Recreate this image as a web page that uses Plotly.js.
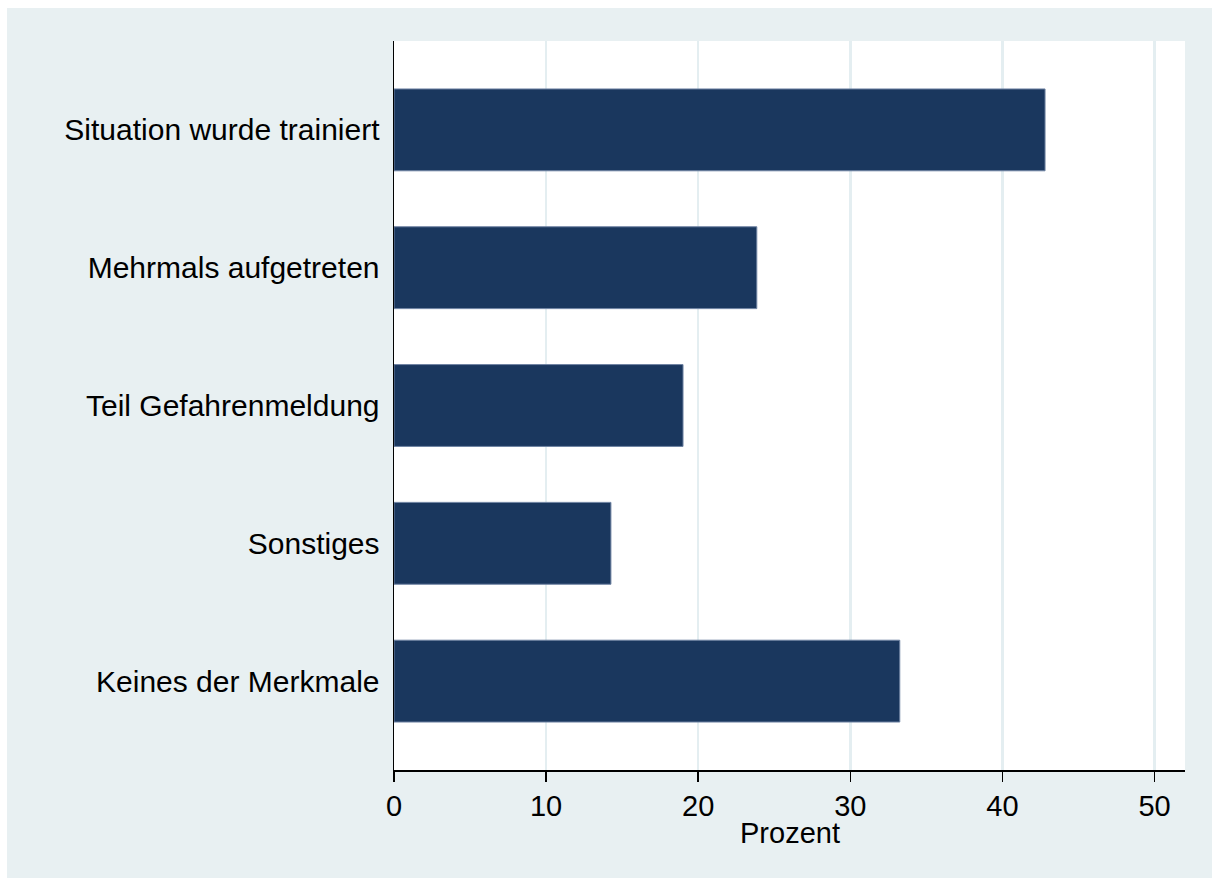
<!DOCTYPE html>
<html>
<head>
<meta charset="utf-8">
<script src="https://cdn.plot.ly/plotly-3.0.1.min.js"></script>
<style>
html,body{margin:0;padding:0;background:#ffffff;}
#chart{position:absolute;left:7px;top:8px;width:1205px;height:870px;}
</style>
</head>
<body>
<div id="chart"></div>
<script>
var categories = ["Situation wurde trainiert", "Mehrmals aufgetreten", "Teil Gefahrenmeldung", "Sonstiges", "Keines der Merkmale"];
var percent = [42.8, 23.85, 19.0, 14.26, 33.25];
var tickValues = [0, 10, 20, 30, 40, 50];
var xTitle = 'Prozent';

var trace = {
  type: 'bar',
  orientation: 'h',
  x: percent,
  y: categories,
  width: 0.594,
  marker: {color: '#1a375e', line: {color: '#6f83a3', width: 1}},
  hoverinfo: 'x+y'
};

var layout = {
  width: 1205,
  height: 870,
  paper_bgcolor: '#e8f0f2',
  plot_bgcolor: '#ffffff',
  margin: {l: 387, r: 27, t: 33, b: 108},
  font: {family: 'Liberation Sans, Arial, sans-serif', size: 30, color: '#000000'},
  showlegend: false,
  bargap: 0.4,
  xaxis: {
    range: [0, 52],
    tickvals: tickValues,
    ticktext: tickValues.map(String),
    ticks: 'outside',
    ticklen: 10,
    tickwidth: 1.5,
    tickcolor: '#000000',
    showline: true,
    linecolor: '#000000',
    linewidth: 1.5,
    showgrid: true,
    gridcolor: '#e4eef1',
    gridwidth: 2.5,
    zeroline: false,
    tickfont: {size: 29}
  },
  yaxis: {
    type: 'category',
    autorange: false,
    range: [4.645, -0.645],
    showline: true,
    linecolor: '#000000',
    linewidth: 1.5,
    showgrid: false,
    zeroline: false,
    ticks: '',
    ticklabelstandoff: 7,
    tickfont: {size: 30}
  },
  annotations: [{
    text: xTitle,
    xref: 'paper', yref: 'paper',
    x: 0.5, y: 0,
    xanchor: 'center', yanchor: 'middle',
    yshift: -63,
    showarrow: false,
    font: {size: 29, color: '#000000'}
  }]
};

Plotly.newPlot('chart', [trace], layout, {displayModeBar: false, staticPlot: true});
</script>
</body>
</html>
